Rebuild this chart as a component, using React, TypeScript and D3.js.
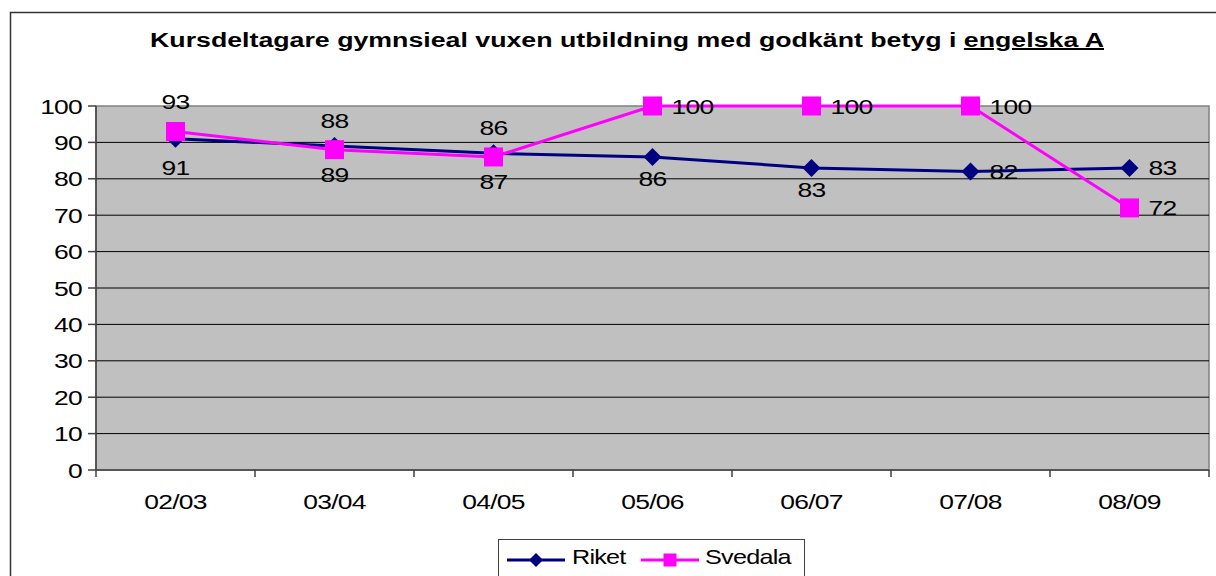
import React from "react";
import * as d3 from "d3";

const years = ["02/03", "03/04", "04/05", "05/06", "06/07", "07/08", "08/09"];
const riket = [91, 89, 87, 86, 83, 82, 83];
const svedala = [93, 88, 86, 100, 100, 100, 72];
const yTicks = [0, 10, 20, 30, 40, 50, 60, 70, 80, 90, 100];
const riketLabelPos = ["below", "below", "below", "near", "near", "right", "right"];
const svedalaLabelPos = ["above", "above", "above", "right", "right", "right", "right"];

const W = 1216;
const H = 576;
const plot = { left: 96, right: 1209, top: 106, bottom: 470 };
const FONT = "'Liberation Sans', Arial, sans-serif";
const SX = 1.26;

const x = d3.scaleBand<string>().domain(years).range([plot.left, plot.right]);
const y = d3.scaleLinear().domain([0, 100]).range([plot.bottom, plot.top]);
const cx = (c: string) => (x(c) as number) + x.bandwidth() / 2;

const lineGen = d3
  .line<number>()
  .x((_, i) => cx(years[i]))
  .y((d) => y(d));

function WideText({ x0, y0, anchor = "start", children, size = 21 }: any) {
  return (
    <text
      transform={`translate(${x0},${y0}) scale(${SX},1)`}
      textAnchor={anchor}
      fontFamily={FONT}
      fontSize={size}
      letterSpacing={-0.6}
      fill="#000"
    >
      {children}
    </text>
  );
}

function Diamond({ px, py, r }: { px: number; py: number; r: number }) {
  return (
    <path
      d={`M${px},${py - r}L${px + r},${py}L${px},${py + r}L${px - r},${py}Z`}
      fill="#000080"
    />
  );
}

function Square({ px, py, r }: { px: number; py: number; r: number }) {
  return <rect x={px - r} y={py - r} width={2 * r} height={2 * r} fill="#FF00FF" />;
}

// Label offsets relative to the marker centre
const labelOffset: Record<string, [number, number, string]> = {
  above: [0, -22, "middle"],
  below: [0, 36, "middle"],
  near: [0, 29, "middle"],
  right: [19, 7.5, "start"],
};

function dataLabel(v: number, i: number, pos: string, key: string) {
  const [dx, dy, anchor] = labelOffset[pos];
  return (
    <WideText key={key} x0={cx(years[i]) + dx} y0={y(v) + dy} anchor={anchor}>
      {v}
    </WideText>
  );
}

export default function App() {
  return (
    <svg
      width={W}
      height={H}
      style={{ position: "absolute", left: 0, top: 0, background: "#fff" }}
    >
      {/* chart frame */}
      <rect x={10.5} y={12.5} width={W + 20} height={H + 20} fill="none" stroke="#333" strokeWidth={1.5} />

      {/* title */}
      <text
        x={627}
        y={47}
        textAnchor="middle"
        fontFamily={FONT}
        fontWeight="bold"
        fontSize={20}
        textLength={954}
        lengthAdjust="spacingAndGlyphs"
        fill="#000"
      >
        Kursdeltagare gymnsieal vuxen utbildning med godkänt betyg i{" "}
        <tspan textDecoration="underline">engelska A</tspan>
      </text>

      {/* plot area */}
      <rect
        x={plot.left}
        y={plot.top}
        width={plot.right - plot.left}
        height={plot.bottom - plot.top}
        fill="#C0C0C0"
        stroke="#808080"
        strokeWidth={1.5}
      />

      {/* gridlines + y ticks */}
      {yTicks.map((t) => (
        <g key={t}>
          {t > 0 && t < 100 && (
            <line x1={plot.left} x2={plot.right} y1={y(t)} y2={y(t)} stroke="#000" strokeWidth={1} />
          )}
          <line x1={plot.left - 8} x2={plot.left} y1={y(t)} y2={y(t)} stroke="#404040" strokeWidth={1.5} />
          <WideText x0={82} y0={y(t) + 7.5} anchor="end">
            {t}
          </WideText>
        </g>
      ))}

      {/* axes */}
      <line x1={plot.left} x2={plot.left} y1={plot.top} y2={plot.bottom} stroke="#404040" strokeWidth={1.5} />
      <line x1={plot.left} x2={plot.right} y1={plot.bottom} y2={plot.bottom} stroke="#404040" strokeWidth={1.5} />
      {years.map((c) => (
        <line
          key={"t" + c}
          x1={x(c) as number}
          x2={x(c) as number}
          y1={plot.bottom}
          y2={plot.bottom + 7}
          stroke="#404040"
          strokeWidth={1.5}
        />
      ))}
      <line x1={plot.right} x2={plot.right} y1={plot.bottom} y2={plot.bottom + 7} stroke="#404040" strokeWidth={1.5} />
      {years.map((c) => (
        <WideText key={"l" + c} x0={cx(c)} y0={plot.bottom + 39} anchor="middle">
          {c}
        </WideText>
      ))}

      {/* series */}
      <path d={lineGen(riket) || ""} fill="none" stroke="#000080" strokeWidth={3} />
      {riket.map((v, i) => (
        <Diamond key={"r" + i} px={cx(years[i])} py={y(v)} r={9} />
      ))}
      <path d={lineGen(svedala) || ""} fill="none" stroke="#FF00FF" strokeWidth={3} />
      {svedala.map((v, i) => (
        <Square key={"s" + i} px={cx(years[i])} py={y(v)} r={9.5} />
      ))}

      {/* data labels */}
      {riket.map((v, i) => dataLabel(v, i, riketLabelPos[i], "rl" + i))}
      {svedala.map((v, i) => dataLabel(v, i, svedalaLabelPos[i], "sl" + i))}

      {/* legend */}
      <rect x={498.5} y={539.5} width={306} height={50} fill="#fff" stroke="#404040" strokeWidth={1} />
      <line x1={507} x2={565} y1={560} y2={560} stroke="#000080" strokeWidth={3} />
      <Diamond px={536} py={560} r={7} />
      <WideText x0={572} y0={564} anchor="start" size={20}>
        Riket
      </WideText>
      <line x1={641} x2={699} y1={560} y2={560} stroke="#FF00FF" strokeWidth={3} />
      <Square px={670} py={560} r={6.5} />
      <WideText x0={705} y0={564} anchor="start" size={20}>
        Svedala
      </WideText>
    </svg>
  );
}
